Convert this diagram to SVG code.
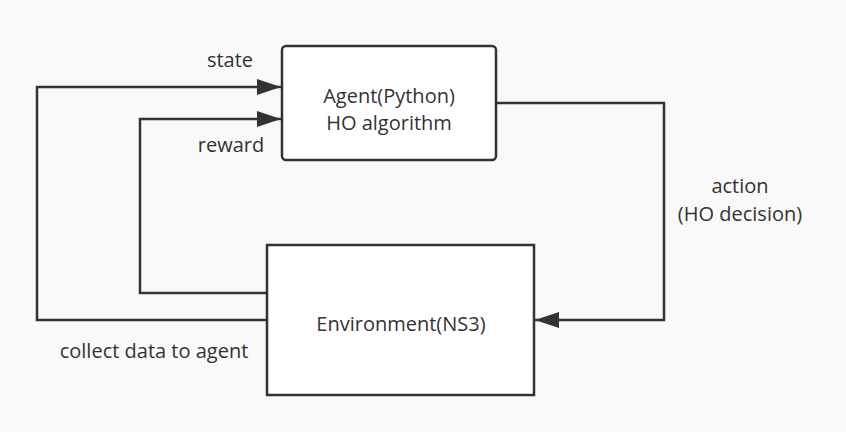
<svg xmlns="http://www.w3.org/2000/svg" width="846" height="432" viewBox="0 0 846 432">
<defs>
<style>
.bg{fill:#f9f9f9}
.box{fill:#ffffff;stroke:#333333;stroke-width:2.5}
.edge{fill:none;stroke:#333333;stroke-width:2.5}
.t{font-family:"Open Sans","Noto Sans","Liberation Sans",sans-serif;font-size:20px;fill:#333333;text-anchor:middle}
</style>
<marker id="arr" markerUnits="userSpaceOnUse" markerWidth="26" markerHeight="18" refX="24" refY="8" orient="auto" viewBox="0 0 26 18">
<path d="M0,0 L24,8 L0,16 Z" fill="#333333"/>
</marker>
</defs>
<rect class="bg" x="0" y="0" width="846" height="432"/>
<g id="connectors">
<path class="edge" d="M267,320 H37 V87 H281" marker-end="url(#arr)"/>
<path class="edge" d="M267,293 H140 V119 H281" marker-end="url(#arr)"/>
<path class="edge" d="M496,103 H664 V320 H535" marker-end="url(#arr)"/>
<text class="t" x="230" y="67">state</text>
<text class="t" x="231" y="152">reward</text>
<text class="t" x="740" y="193"><tspan x="740" y="193">action</tspan><tspan x="740" y="220.5">(HO decision)</tspan></text>
<text class="t" x="154" y="358">collect data to agent</text>
</g>
<g id="agent">
<rect class="box" x="282" y="46" width="214" height="114" rx="4"/>
<text class="t" x="389" y="102.5"><tspan x="389" y="102.5">Agent(Python)</tspan><tspan x="389" y="130">HO algorithm</tspan></text>
</g>
<g id="environment">
<rect class="box" x="267" y="245" width="267" height="150"/>
<text class="t" x="401" y="331">Environment(NS3)</text>
</g>
</svg>
